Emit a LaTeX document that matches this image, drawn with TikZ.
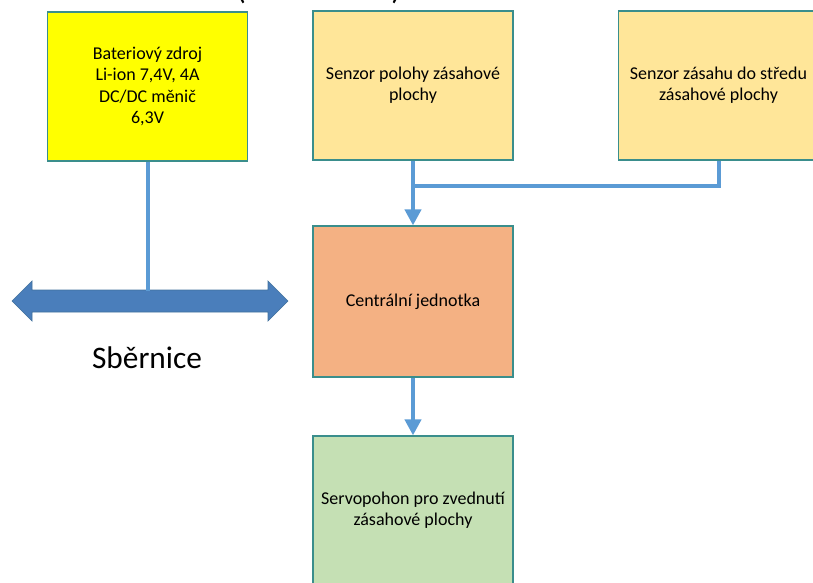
\documentclass[tikz,border=0pt]{standalone}
\usepackage{fontspec}
\setmainfont{Carlito}
\usepackage{tikz}
\usetikzlibrary{arrows.meta, calc, positioning}
\definecolor{boxEdge}{HTML}{3A8E8C}
\definecolor{batY}{HTML}{FFFF00}
\definecolor{senzO}{HTML}{FFE699}
\definecolor{centO}{HTML}{F4B183}
\definecolor{servG}{HTML}{C5E0B4}
\definecolor{wireB}{HTML}{5B9BD5}
\definecolor{busB}{HTML}{4A7EBB}
\definecolor{busEdge}{HTML}{41719C}

\tikzset{
  blok/.style = {draw = boxEdge, line width = 0.9pt, minimum width = 150pt,
    minimum height = 111.75pt, inner sep = 0pt, align = center,
    font = \fontsize{13.5}{16}\selectfont},
  wire/.style = {draw = wireB, line width = 3pt},
  wireArrow/.style = {wire, -{Triangle[width = 12pt, length = 12pt]}}
}

\begin{document}
\begin{tikzpicture}[x = 0.75pt, y = -0.75pt]
  \def\picW{813}
  \def\picH{582}
  \def\busY{301}
  \def\junctionY{186}

  \useasboundingbox (0, 0) rectangle (\picW, \picH);
  \clip (0, 0) rectangle (\picW, \picH);

  % ------------------------
  % blocks
  % ------------------------

  \node[blok, fill = batY] (bat) at (147.5, 86.5)
    {Bateriový zdroj\\Li-ion 7,4V, 4A\\DC/DC měnič\\6,3V};
  \node[blok, fill = senzO] (pol) at (413, 85.5)
    {Senzor polohy zásahové\\plochy};
  \node[blok, fill = senzO] (str) at (718.5, 85.5)
    {Senzor zásahu do středu\\zásahové plochy};
  \node[blok, fill = centO, minimum height = 113.25pt] (cen) at (413, 301.5)
    {Centrální jednotka};
  \node[blok, fill = servG] (srv) at (413, 510.5)
    {Servopohon pro zvednutí\\zásahové plochy};

  % ------------------------
  % bus
  % ------------------------

  \coordinate (busL) at (12, \busY);
  \coordinate (busR) at (288, \busY);
  \coordinate (busTap) at (bat.south |- 0, 291);

  \draw[busEdge, fill = busB, line width = 0.5pt]
    (busL) -- ++(20, -20) -- ++(0, 9) -- ($(busR) + (-20, -11)$)
    -- ++(0, -9) -- (busR) -- ++(-20, 20) -- ++(0, -9)
    -- ($(busL) + (20, 11)$) -- ++(0, 9) -- cycle;

  \node[font = \fontsize{23.5}{28}\selectfont] (busLabel) at (147, 358) {Sběrnice};

  % fragments of the caption above the picture
  \node[anchor = base, font = \fontsize{23.5}{28}\selectfont, inner sep = 0pt]
    (capL) at (241, -1) {(};
  \node[anchor = base, font = \fontsize{23.5}{28}\selectfont, inner sep = 0pt]
    (capR) at (396, -1) {)};

  % ------------------------
  % connectors
  % ------------------------

  \coordinate (junction) at (pol.south |- 0, \junctionY);

  \draw[wire] (bat.south) -- (busTap);
  \draw[wireArrow] (pol.south) -- (cen.north);
  \draw[wire] (str.south) |- (junction);
  \draw[wireArrow] (cen.south) -- (srv.north);
\end{tikzpicture}
\end{document}
